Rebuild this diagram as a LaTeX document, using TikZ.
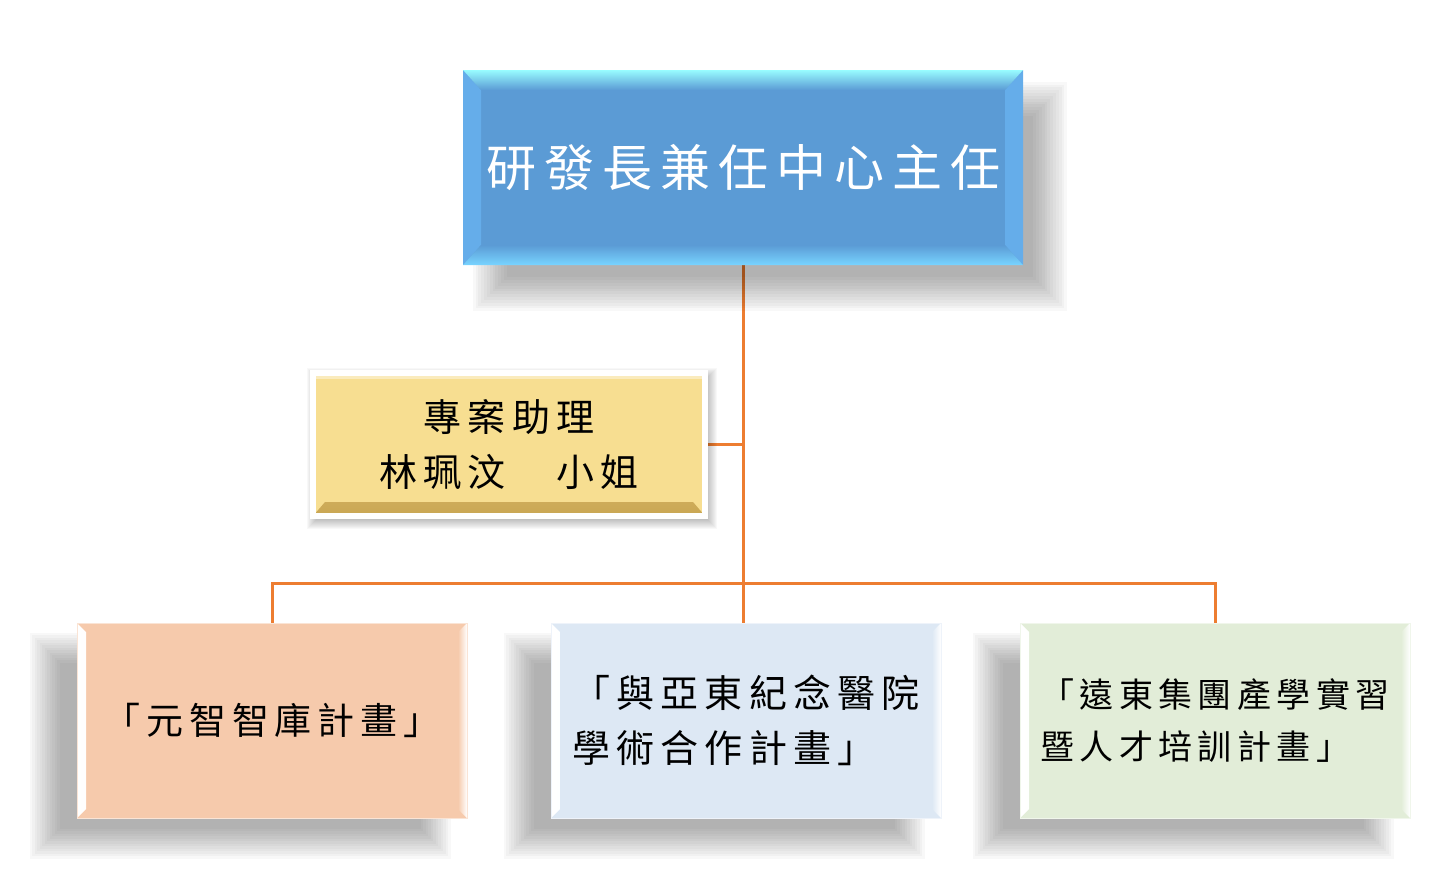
\documentclass[tikz,border=0pt]{standalone}
\usepackage{fontspec}
\setmainfont[LetterSpace=16]{Noto Sans CJK TC}
\usetikzlibrary{backgrounds}
\definecolor{chiefblue}{HTML}{5B9BD5}
\definecolor{chiefcyan}{HTML}{98FCFF}
\definecolor{chieflow}{HTML}{78D4FF}
\definecolor{chiefside}{HTML}{65ADEA}
\definecolor{assistyellow}{HTML}{F7DE91}
\definecolor{assistgold}{HTML}{C9A653}
\definecolor{peach}{HTML}{F6CAAC}
\definecolor{paleblue}{HTML}{DDE8F4}
\definecolor{palegreen}{HTML}{E2EDD8}
\definecolor{linkorange}{HTML}{ED7D31}
\begin{document}
\begin{tikzpicture}[x=1pt,y=-1pt,
  link/.style={draw=linkorange,line width=3pt},
  shadowstep/.style={fill=black,opacity=0.027},
  chiefbox/.style={minimum width=560pt,minimum height=195pt,inner sep=0pt,
    fill=chiefblue,text=white,font=\fontsize{50}{55}\selectfont,
    path picture={
      \coordinate (nw) at (path picture bounding box.north west);
      \coordinate (ne) at (path picture bounding box.north east);
      \coordinate (sw) at (path picture bounding box.south west);
      \coordinate (se) at (path picture bounding box.south east);
      \fill[chiefside] (nw) -- ([xshift=18pt,yshift=-20pt]nw) -- ([xshift=18pt,yshift=20pt]sw) -- (sw) -- cycle;
      \fill[chiefside] (ne) -- ([xshift=-18pt,yshift=-20pt]ne) -- ([xshift=-18pt,yshift=20pt]se) -- (se) -- cycle;
      \shade[top color=chiefcyan,bottom color=chiefblue] (nw) -- (ne) -- ([xshift=-18pt,yshift=-20pt]ne) -- ([xshift=18pt,yshift=-20pt]nw) -- cycle;
      \shade[top color=chiefblue,bottom color=chieflow] (sw) -- (se) -- ([xshift=-18pt,yshift=20pt]se) -- ([xshift=18pt,yshift=20pt]sw) -- cycle;
    }},
  assistbox/.style={minimum width=392pt,minimum height=143pt,inner sep=0pt,
    fill=assistyellow,draw=white,line width=6pt,align=center,
    font=\fontsize{38}{55}\selectfont,
    path picture={
      \shade[top color=assistyellow,bottom color=assistgold]
        ([xshift=12pt,yshift=14pt]path picture bounding box.south west) -- ([xshift=-12pt,yshift=14pt]path picture bounding box.south east)
        -- (path picture bounding box.south east) -- (path picture bounding box.south west) -- cycle;
      \fill[white!40!assistyellow] (path picture bounding box.north west) rectangle ([yshift=-6pt]path picture bounding box.north east);
    }},
  projbox/.style={minimum width=390pt,minimum height=195pt,inner sep=0pt,
    fill=#1,draw=white!50!#1,line width=1pt,align=left,
    path picture={
      \shade[left color=white,right color=#1]
        (path picture bounding box.north west) -- ([xshift=9pt,yshift=-9pt]path picture bounding box.north west)
        -- ([xshift=9pt,yshift=9pt]path picture bounding box.south west) -- (path picture bounding box.south west) -- cycle;
      \shade[right color=white,left color=#1]
        (path picture bounding box.north east) -- ([xshift=-9pt,yshift=-9pt]path picture bounding box.north east)
        -- ([xshift=-9pt,yshift=9pt]path picture bounding box.south east) -- (path picture bounding box.south east) -- cycle;
    }}]
\useasboundingbox (0,0) rectangle (1431,889);
% top
\node[chiefbox] (chief) at (743,167.5) {研發長兼任中心主任};
% assistant
\node[assistbox] (assist) at (509,444.5) {專案助理\\林珮汶　小姐};
% projects
\node[projbox=peach,font=\fontsize{37}{55}\selectfont] (left) at (272,720.5) {「元智智庫計畫」};
\node[projbox=paleblue,font=\fontsize{38}{55}\selectfont] (mid) at (746,720.5) {「與亞東紀念醫院\\學術合作計畫」};
\node[projbox=palegreen,font=\fontsize{34}{52}\selectfont] (right) at (1215,720.5) {「遠東集團產學實習\\暨人才培訓計畫」};
\coordinate (bus) at (743,583);
\begin{scope}[on background layer]
% connectors
\draw[link] (chief.south) -- (chief.south |- mid.north);
\draw[link] (assist.east) -- (assist.east -| chief.south);
\draw[link] (left.north) |- (bus) -| (right.north);
% soft shadows
\foreach \n/\dx/\dy/\r in {chief/27/-29/17,left/-32/-25/15,mid/-32/-25/15,right/-32/-25/15,assist/3/-4/6}
  \foreach \k in {0,...,12}
    \fill[shadowstep]
      ([xshift={(\dx+\r*(\k/6-1))*1pt},yshift={(\dy-\r*(\k/6-1))*1pt}]\n.north west)
      rectangle ([xshift={(\dx-\r*(\k/6-1))*1pt},yshift={(\dy+\r*(\k/6-1))*1pt}]\n.south east);
\end{scope}
\end{tikzpicture}
\end{document}
